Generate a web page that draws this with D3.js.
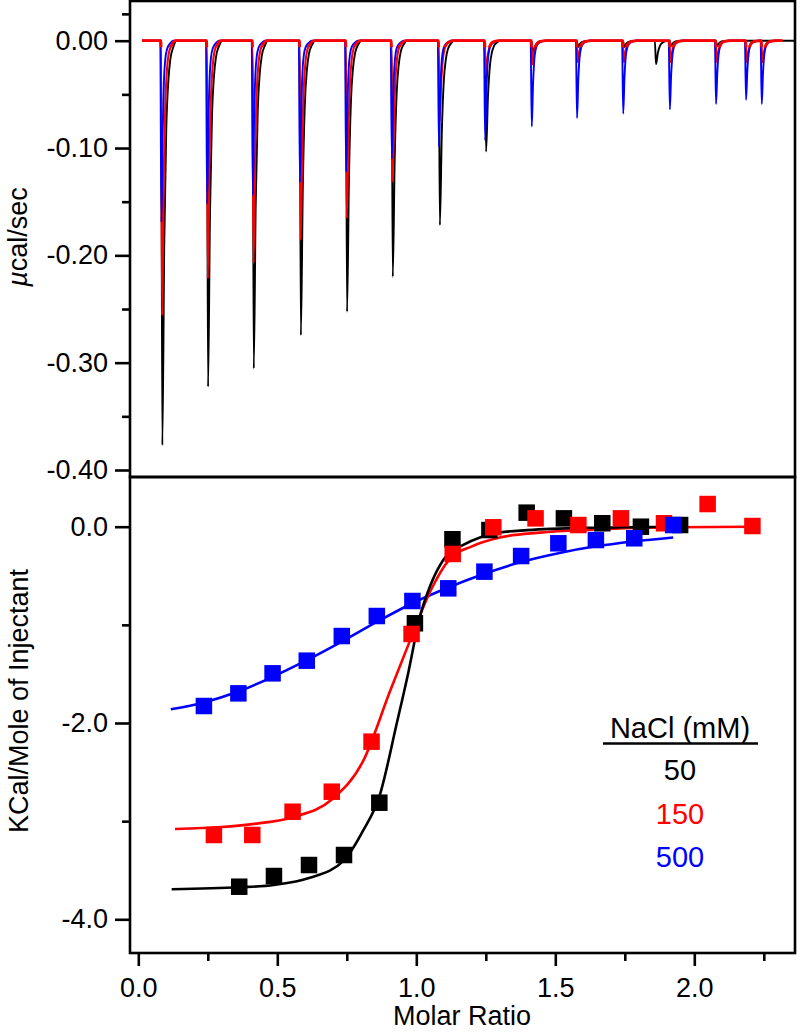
<!DOCTYPE html>
<html>
<head>
<meta charset="utf-8">
<script src="https://cdn.jsdelivr.net/npm/d3@7"></script>
<style>
  html, body { margin: 0; padding: 0; background: #fff; }
  svg { display: block; }
  text { font-family: "Liberation Sans", Arial, Helvetica, sans-serif; }
</style>
</head>
<body>
<svg id="chart" width="800" height="1032"></svg>
<script>
// ---------------- DATA ----------------
// Top panel: raw thermogram, injection times (min) and peak heights (µcal/sec)
const blackPeakTimes  = [7.0, 16.9, 26.8, 37.0, 47.0, 56.9, 67.1, 77.1, 87.2, 97.0, 107.0, 113.9, 117.1, 127.1];
const blackPeakDepths = [-0.377, -0.3225, -0.3054, -0.2743, -0.2526, -0.220, -0.1718, -0.1034, -0.012, -0.006, -0.006, -0.022, -0.005, -0.005];
const redPeakTimes    = [6.95, 16.85, 26.75, 36.95, 46.95, 56.85, 67.05, 77.05, 87.15, 96.95, 106.95, 117.05, 127.05, 133.55, 136.95];
const redPeakDepths   = [-0.256, -0.2215, -0.2075, -0.1857, -0.1655, -0.1314, -0.075, -0.032, -0.022, -0.02, -0.02, -0.02, -0.02, -0.02, -0.02];
const bluePeakTimes   = [6.8, 16.7, 26.6, 36.8, 46.8, 56.7, 66.9, 76.9, 87.0, 96.8, 106.8, 116.9, 126.9, 133.4, 136.8];
const bluePeakDepths  = [-0.169, -0.152, -0.144, -0.132, -0.122, -0.110, -0.099, -0.093, -0.080, -0.072, -0.068, -0.064, -0.059, -0.055, -0.059];
const traceStart = 2.6;
const blackTraceEnd = 144, redTraceEnd = 141.3, blueTraceEnd = 140.9;

// Bottom panel: integrated heats (kcal/mol of injectant) vs molar ratio
const blackX = [0.363, 0.488, 0.614, 0.740, 0.867, 0.995, 1.130, 1.263, 1.397, 1.531, 1.669, 1.808, 1.949];
const blackY = [-3.668, -3.559, -3.447, -3.345, -2.812, -0.984, -0.128, -0.034, 0.143, 0.085, 0.035, 0.0, 0.017];
const redX   = [0.272, 0.410, 0.555, 0.696, 0.839, 0.983, 1.131, 1.277, 1.429, 1.583, 1.736, 1.891, 2.048, 2.209];
const redY   = [-3.141, -3.141, -2.904, -2.700, -2.190, -1.093, -0.278, -0.006, 0.085, 0.017, 0.085, 0.035, 0.231, 0.007];
const blueX  = [0.236, 0.360, 0.483, 0.606, 0.732, 0.858, 0.986, 1.115, 1.245, 1.377, 1.511, 1.646, 1.784, 1.924];
const blueY  = [-1.827, -1.698, -1.494, -1.365, -1.114, -0.910, -0.757, -0.628, -0.458, -0.299, -0.169, -0.136, -0.118, 0.017];

// fitted curves
const blackFitX = [0.12, 0.363, 0.488, 0.614, 0.74, 0.81, 0.867, 0.93, 0.971, 1.013, 1.049, 1.097, 1.169, 1.229, 1.3, 1.4, 1.6, 1.97];
const blackFitY = [-3.694, -3.674, -3.65, -3.58, -3.40, -3.09, -2.75, -2.0, -1.49, -0.917, -0.61, -0.34, -0.186, -0.11, -0.06, -0.035, -0.012, 0.0];
const redFitX = [0.132, 0.3, 0.41, 0.555, 0.696, 0.81, 0.905, 0.983, 1.05, 1.12, 1.2, 1.3, 1.445, 1.625, 1.924, 2.236];
const redFitY = [-3.08, -3.06, -3.03, -2.96, -2.78, -2.38, -1.68, -1.12, -0.66, -0.33, -0.2, -0.11, -0.06, -0.03, -0.005, 0];
const blueFitX = [0.117, 0.236, 0.36, 0.483, 0.606, 0.732, 0.858, 0.986, 1.115, 1.245, 1.377, 1.511, 1.646, 1.784, 1.924];
const blueFitY = [-1.86, -1.79, -1.68, -1.53, -1.36, -1.17, -0.97, -0.78, -0.62, -0.48, -0.36, -0.27, -0.20, -0.15, -0.11];

// ticks / labels
const topMajorTicks = [0, -0.1, -0.2, -0.3, -0.4];
const topMinorTicks = [0.025, -0.05, -0.15, -0.25, -0.35];
const botYMajorTicks = [0, -2, -4];
const botYMinorTicks = [-1, -3];
const xMajorTicks = [0, 0.5, 1.0, 1.5, 2.0];
const xMinorTicks = [0.25, 0.75, 1.25, 1.75, 2.25];
const legendTitle = "NaCl (mM)";
const seriesNames = ["50", "150", "500"];
const seriesColors = ["#000000", "#ff0000", "#0000ff"];

// peak glyph templates (offset in min, fraction of peak height)
const blueOffsets  = [-0.25, 0, 0.28, 0.55, 0.85, 1.25, 1.9, 2.6];
const redOffsets   = [-0.25, 0, 0.36, 0.72, 1.08, 1.45, 2.1, 2.9];
const blackOffsets = [-0.25, 0, 0.42, 0.85, 1.3, 1.75, 2.4, 3.05];
const peakFractions = [0, 1, 0.5, 0.22, 0.1, 0.045, 0.015, 0];

// ---------------- DRAW ----------------
const svg = d3.select("#chart");
const L = 130, R = 795, T = 1, MID = 477, B = 953;
const FONT = 27;

const tx = d3.scaleLinear().domain([0, 144]).range([L, R]);
const ty = d3.scaleLinear().domain([0, -0.4]).range([40.7, 470]);
const bx = d3.scaleLinear().domain([0, 2]).range([138.3, 694.3]);
const by = d3.scaleLinear().domain([0, -4]).range([526.7, 919.3]);

const defs = svg.append("defs");
defs.append("clipPath").attr("id", "topclip")
  .append("rect").attr("x", L).attr("y", T).attr("width", R - L).attr("height", MID - T);
defs.append("clipPath").attr("id", "baseclip")
  .append("rect").attr("x", L).attr("y", T).attr("width", R - L).attr("height", ty(-0.006) - T);
defs.append("clipPath").attr("id", "botclip")
  .append("rect").attr("x", L).attr("y", MID).attr("width", R - L).attr("height", B - MID);

function buildTrace(times, depths, offsets, t0, t1) {
  const pts = [[t0, 0]];
  times.forEach((t, i) => {
    offsets.forEach((o, j) => pts.push([t + o, depths[i] * peakFractions[j]]));
  });
  pts.push([t1, 0]);
  return pts;
}
const traceLine = d3.line().x(d => tx(d[0])).y(d => ty(d[1])).curve(d3.curveMonotoneX);

const topG = svg.append("g").attr("clip-path", "url(#topclip)");
const blackTrace = buildTrace(blackPeakTimes, blackPeakDepths, blackOffsets, traceStart, blackTraceEnd);
const redTrace = buildTrace(redPeakTimes, redPeakDepths, redOffsets, traceStart, redTraceEnd);
const blueTrace = buildTrace(bluePeakTimes, bluePeakDepths, blueOffsets, traceStart, blueTraceEnd);

topG.append("path").attr("d", traceLine(blackTrace)).attr("fill", "none").attr("stroke", "#000").attr("stroke-width", 1.9);
topG.append("path").attr("d", traceLine(redTrace)).attr("fill", "none").attr("stroke", "#ff0000").attr("stroke-width", 2.1);
topG.append("path").attr("d", traceLine(blueTrace)).attr("fill", "none").attr("stroke", "#0000ff").attr("stroke-width", 1.9);
// red baseline drawn over the others near zero
svg.append("g").attr("clip-path", "url(#baseclip)")
  .append("path").attr("d", traceLine(redTrace)).attr("fill", "none").attr("stroke", "#ff0000").attr("stroke-width", 2.8);

// bottom panel
const botG = svg.append("g").attr("clip-path", "url(#botclip)");
const fitLine = d3.line().x(d => bx(d[0])).y(d => by(d[1])).curve(d3.curveMonotoneX);
const fits = [
  {x: blueFitX, y: blueFitY, c: seriesColors[2]},
  {x: redFitX, y: redFitY, c: seriesColors[1]},
  {x: blackFitX, y: blackFitY, c: seriesColors[0]}
];
fits.forEach(f => {
  botG.append("path").attr("d", fitLine(f.x.map((v, i) => [v, f.y[i]])))
    .attr("fill", "none").attr("stroke", f.c).attr("stroke-width", 2.6);
});
const SQ = 16.5;
const pointSets = [
  {x: blackX, y: blackY, c: seriesColors[0]},
  {x: redX, y: redY, c: seriesColors[1]},
  {x: blueX, y: blueY, c: seriesColors[2]}
];
pointSets.forEach(s => {
  botG.append("g").selectAll("rect").data(s.x.map((v, i) => [v, s.y[i]])).join("rect")
    .attr("x", d => bx(d[0]) - SQ / 2).attr("y", d => by(d[1]) - SQ / 2)
    .attr("width", SQ).attr("height", SQ).attr("fill", s.c);
});

// frames
const frame = svg.append("g").attr("stroke", "#000").attr("stroke-width", 2.6).attr("fill", "none");
frame.append("rect").attr("x", L).attr("y", T).attr("width", R - L).attr("height", MID - T);
frame.append("rect").attr("x", L).attr("y", MID).attr("width", R - L).attr("height", B - MID);

// axes
function styleAxis(g) {
  g.select(".domain").remove();
  g.selectAll(".tick line").attr("stroke", "#000").attr("stroke-width", 2.6);
  g.selectAll("text").attr("font-size", FONT).attr("fill", "#000")
    .attr("font-family", '"Liberation Sans", Arial, Helvetica, sans-serif');
}
svg.append("g").attr("transform", `translate(${L},0)`)
  .call(d3.axisLeft(ty).tickValues(topMajorTicks).tickSize(15).tickPadding(7).tickFormat(d => d.toFixed(2)))
  .call(styleAxis);
svg.append("g").attr("transform", `translate(${L},0)`)
  .call(d3.axisLeft(ty).tickValues(topMinorTicks).tickSize(8).tickFormat(""))
  .call(styleAxis);
svg.append("g").attr("transform", `translate(${L},0)`)
  .call(d3.axisLeft(by).tickValues(botYMajorTicks).tickSize(15).tickPadding(7).tickFormat(d => d.toFixed(1)))
  .call(styleAxis);
svg.append("g").attr("transform", `translate(${L},0)`)
  .call(d3.axisLeft(by).tickValues(botYMinorTicks).tickSize(8).tickFormat(""))
  .call(styleAxis);
svg.append("g").attr("transform", `translate(0,${B})`)
  .call(d3.axisBottom(bx).tickValues(xMajorTicks).tickSize(13).tickPadding(12).tickFormat(d => d.toFixed(1)))
  .call(styleAxis);
svg.append("g").attr("transform", `translate(0,${B})`)
  .call(d3.axisBottom(bx).tickValues(xMinorTicks).tickSize(8).tickFormat(""))
  .call(styleAxis);

// axis titles
const yt1 = svg.append("text").attr("transform", "translate(27,237) rotate(-90)")
  .attr("text-anchor", "middle").attr("font-size", FONT);
yt1.append("tspan").attr("font-style", "italic").text("\u00b5");
yt1.append("tspan").text("cal/sec");
svg.append("text").attr("transform", "translate(28,701) rotate(-90)")
  .attr("text-anchor", "middle").attr("font-size", FONT).text("KCal/Mole of Injectant");
svg.append("text").attr("x", 462).attr("y", 1025).attr("text-anchor", "middle")
  .attr("font-size", FONT).text("Molar Ratio");

// legend
const LX = 680, LFONT = 29;
svg.append("text").attr("x", LX).attr("y", 738).attr("text-anchor", "middle")
  .attr("font-size", LFONT).text(legendTitle);
svg.append("line").attr("x1", 603).attr("x2", 758).attr("y1", 743.5).attr("y2", 743.5)
  .attr("stroke", "#000").attr("stroke-width", 2.6);
seriesNames.forEach((n, i) => {
  svg.append("text").attr("x", LX).attr("y", 780 + i * 43.5).attr("text-anchor", "middle")
    .attr("font-size", LFONT).attr("fill", seriesColors[i]).text(n);
});
</script>
</body>
</html>
